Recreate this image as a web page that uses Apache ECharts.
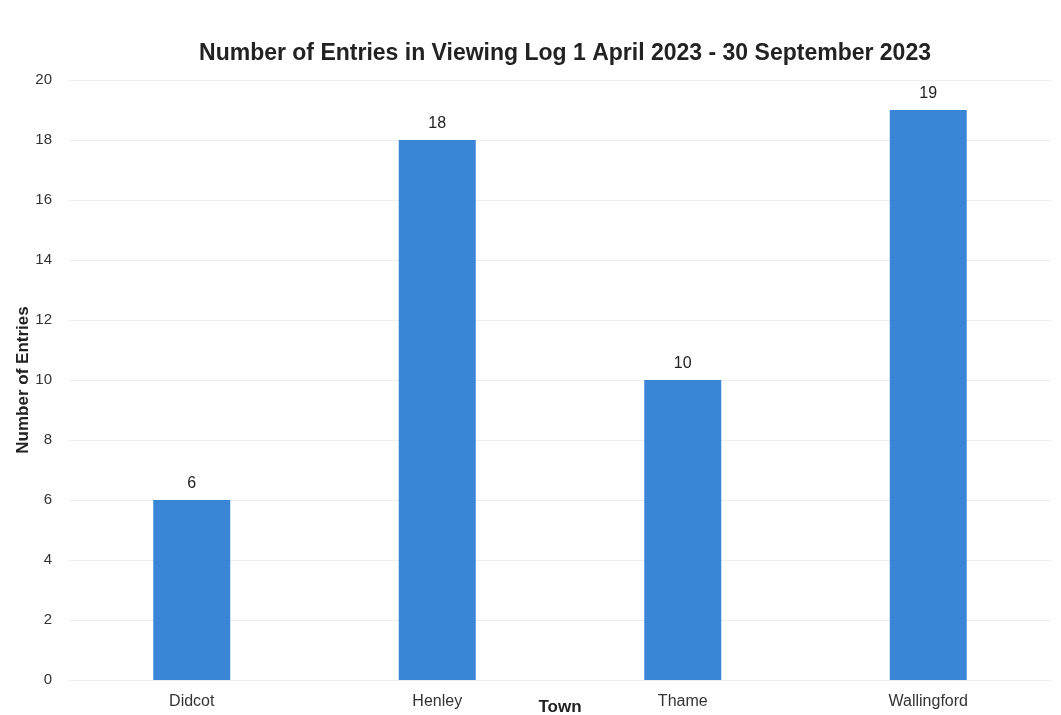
<!DOCTYPE html>
<html>
<head>
<meta charset="utf-8">
<style>
  html, body { margin: 0; padding: 0; background: #fff; }
  #chart { width: 1061px; height: 715px; }
</style>
<script src="https://cdn.jsdelivr.net/npm/echarts@6/dist/echarts.min.js"></script>
</head>
<body>
<div id="chart"></div>
<script>
// Data
const towns = ['Didcot', 'Henley', 'Thame', 'Wallingford'];
const entries = [6, 18, 10, 19];

const chart = echarts.init(document.getElementById('chart'), null, { renderer: 'canvas' });

chart.setOption({
  backgroundColor: '#ffffff',
  textStyle: { fontFamily: 'Liberation Sans, Arial, sans-serif' },
  title: {
    text: 'Number of Entries in Viewing Log 1 April 2023 - 30 September 2023',
    left: 560,
    textAlign: 'center',
    top: 37,
    textStyle: { fontSize: 23, fontWeight: 'bold', color: '#222' }
  },
  grid: { left: 69, right: 10, top: 80, bottom: 35, outerBoundsMode: 'none' },
  xAxis: {
    type: 'category',
    data: towns,
    name: 'Town',
    nameLocation: 'middle',
    nameGap: 19,
    nameMoveOverlap: false,
    nameTextStyle: { fontSize: 17, fontWeight: 'bold', color: '#222' },
    axisLine: { show: false },
    axisTick: { show: false },
    axisLabel: { fontSize: 16, color: '#333', margin: 14 }
  },
  yAxis: {
    type: 'value',
    min: 0,
    max: 20,
    interval: 2,
    name: 'Number of Entries',
    nameLocation: 'middle',
    nameGap: 37,
    nameMoveOverlap: false,
    nameTextStyle: { fontSize: 17, fontWeight: 'bold', color: '#222' },
    axisLabel: { fontSize: 15, color: '#333', margin: 17 },
    splitLine: { lineStyle: { color: '#ececec', width: 1 } }
  },
  series: [{
    type: 'bar',
    data: entries,
    barWidth: 77,
    itemStyle: { color: '#3a86d6' },
    label: {
      show: true,
      position: 'top',
      distance: 8,
      fontSize: 16,
      color: '#222'
    }
  }]
});
</script>
</body>
</html>
